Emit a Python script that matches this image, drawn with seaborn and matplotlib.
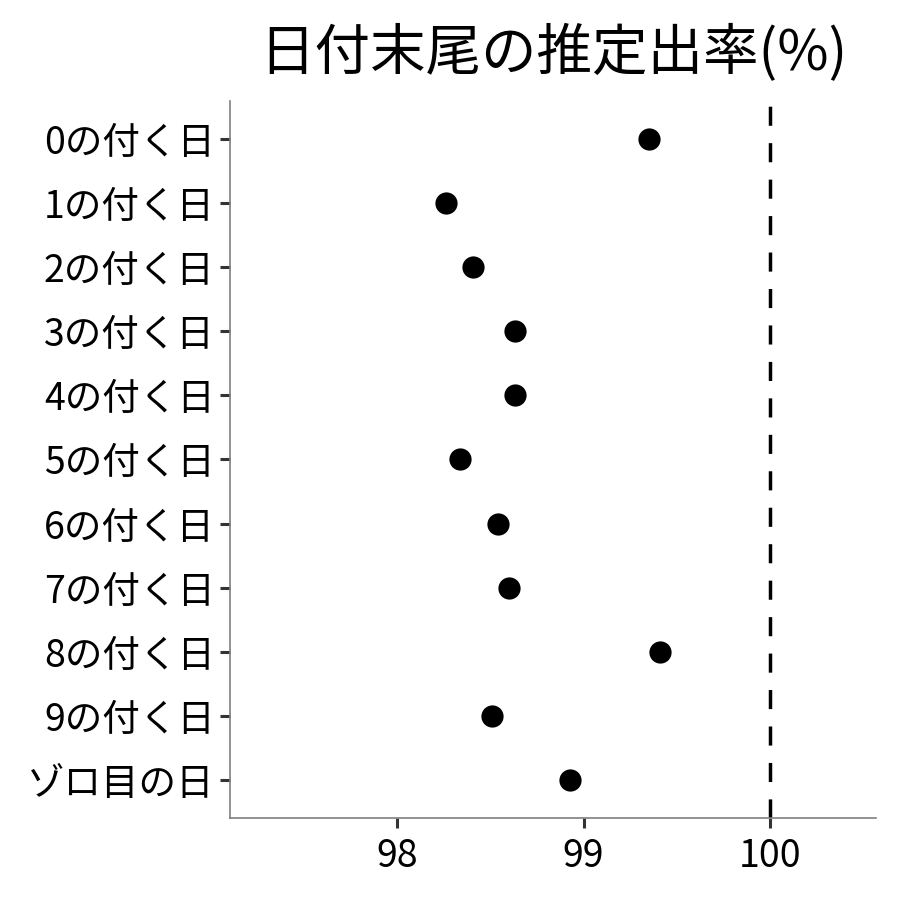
import pandas as pd
import seaborn as sns
import matplotlib.pyplot as plt

# 日付末尾ごとの推定出率
categories = ['0の付く日', '1の付く日', '2の付く日', '3の付く日', '4の付く日',
              '5の付く日', '6の付く日', '7の付く日', '8の付く日', '9の付く日', 'ゾロ目の日']
rates = [99.35, 98.26, 98.41, 98.63, 98.63, 98.34, 98.54, 98.60, 99.41, 98.51, 98.93]
xticks = [98, 99, 100]

df = pd.DataFrame({'day': categories, 'rate': rates})

sns.set_style('white')
plt.rcParams['font.family'] = ['Noto Sans CJK JP', 'DejaVu Sans']

fig = plt.figure(figsize=(9, 9), dpi=100)
ax = fig.add_axes([0.2556, 0.0911, 0.7178, 0.7967])

sns.stripplot(data=df, x='rate', y='day', order=categories, jitter=False,
              color='black', size=16, linewidth=0, ax=ax)
ax.axvline(100, color='black', linestyle=(0, (5.5, 5)), linewidth=2.5)

ax.set_xlim(97.105, 100.568)
ax.set_ylim(10.59, -0.59)
ax.set_xticks(xticks)
ax.set_xticklabels([str(v) for v in xticks])
ax.set_xlabel('')
ax.set_ylabel('')
ax.set_title('日付末尾の推定出率(%)', fontsize=40, pad=22, color='black')

for side in ['top', 'right']:
    ax.spines[side].set_visible(False)
for side in ['left', 'bottom']:
    ax.spines[side].set_color('#7f7f7f')
    ax.spines[side].set_linewidth(1.2)
ax.tick_params(axis='both', bottom=True, left=True, length=7, width=2.2,
               color='#333333', labelsize=27, labelcolor='black', pad=4)
ax.tick_params(axis='x', pad=7)

fig.savefig('out.png', dpi=100)
